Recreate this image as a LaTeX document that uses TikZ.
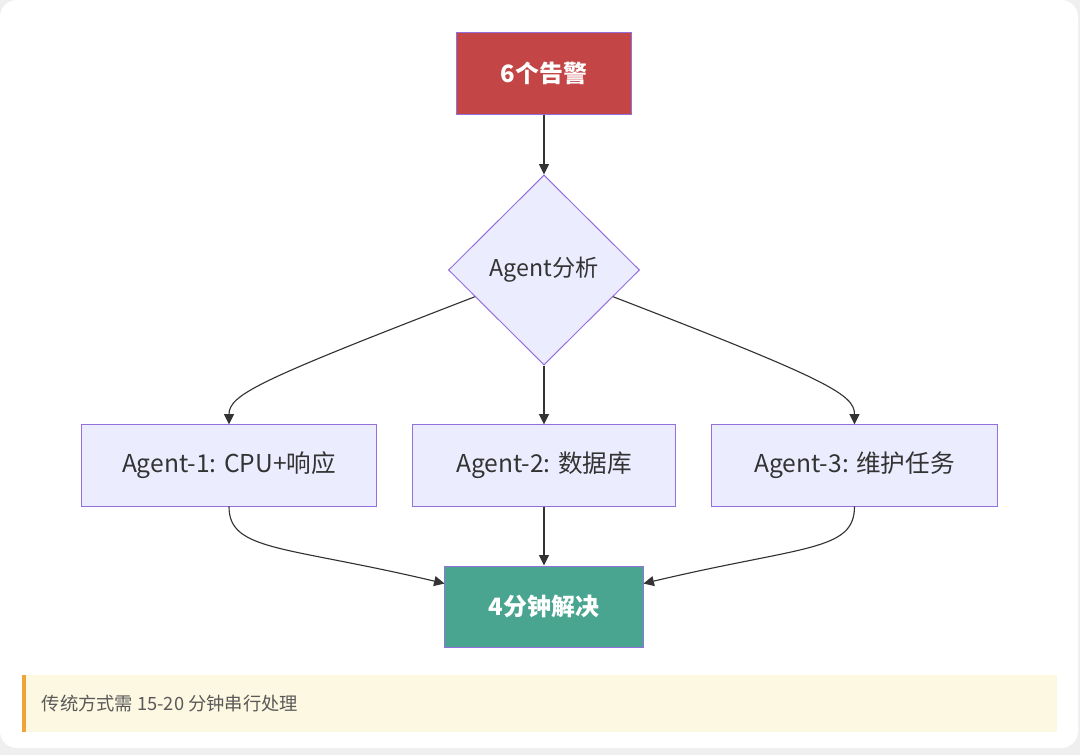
\documentclass[tikz,border=0pt]{standalone}
\usepackage{fontspec}
\setmainfont{Noto Sans CJK SC}
\usepackage{tikz}
\usetikzlibrary{arrows.meta,calc,positioning,shapes.geometric}

\definecolor{nodeline}{HTML}{9370DB}
\definecolor{nodefill}{HTML}{ECECFF}
\definecolor{alarmred}{HTML}{C34545}
\definecolor{doneteal}{HTML}{4AA590}
\definecolor{linkgray}{HTML}{333333}
\definecolor{notefill}{HTML}{FDF8E1}
\definecolor{notebar}{HTML}{EFA43A}
\definecolor{pagegray}{HTML}{EFEFEF}

\begin{document}
\begin{tikzpicture}[
    x=0.025cm,
    y=-0.025cm,
    >={Triangle[length=2.6mm, width=2.5mm]},
    box/.style={draw=nodeline, line width=0.7pt, fill=nodefill, text=linkgray, align=center, minimum height=2.025cm, inner sep=2pt, font=\fontsize{17.5}{20}\selectfont},
    hotbox/.style={box, text=white, font=\fontsize{17}{20}\selectfont\bfseries},
    decide/.style={draw=nodeline, line width=0.7pt, fill=nodefill, text=linkgray, diamond, minimum width=4.775cm, minimum height=4.75cm, inner sep=0pt, font=\fontsize{16.5}{20}\selectfont},
    link/.style={->, draw=linkgray, line width=0.8pt}
]
% page and card
\fill[pagegray] (0,0) rectangle (1080,755);
\fill[white, rounded corners=12pt] (0,0) rectangle (1078,748);
\useasboundingbox (0,0) rectangle (1080,755);

\node[hotbox, fill=alarmred, minimum width=4.35cm] (alarm) at (544,73.5) {6个告警};
\node[decide] (diag) at (544,270) {Agent分析};
\node[box, minimum width=7.35cm] (agent1) at (229,465.5) {Agent-1: CPU+响应};
\node[box, minimum width=6.55cm] (agent2) at (544,465.5) {Agent-2: 数据库};
\node[box, minimum width=7.125cm] (agent3) at (854.5,465.5) {Agent-3: 维护任务};
\node[hotbox, fill=doneteal, minimum width=4.95cm] (result) at (544,606.5) {4分钟解决};

\coordinate (diagL) at ($(diag.west)!0.28!(diag.south)$);
\coordinate (diagR) at ($(diag.east)!0.28!(diag.south)$);
\coordinate (resL) at ($(result.north west)!0.22!(result.south west)$);
\coordinate (resR) at ($(result.north east)!0.22!(result.south east)$);

\draw[link] (alarm) -- (diag);
\draw[link] (diagL) .. controls +(-215,83) and +(0,-30) .. (agent1.north);
\draw[link] (diag.south) -- (agent2.north);
\draw[link] (diagR) .. controls +(215,83) and +(0,-30) .. (agent3.north);
\draw[link] (agent1.south) .. controls +(0,45) and +(-160,-38) .. (resL);
\draw[link] (agent2.south) -- (result.north);
\draw[link] (agent3.south) .. controls +(0,45) and +(160,-38) .. (resR);

% note strip
\node[fill=notefill, minimum width=25.875cm, minimum height=1.425cm, inner sep=0pt] (note) at (539.5,703.5) {};
\fill[notebar] (note.north west) rectangle ($(note.south west)+(4,0)$);
\node[anchor=west, text=black!65, font=\fontsize{13}{15}\selectfont, inner sep=0pt] (notetext) at ($(note.west)+(20,0)$) {传统方式需 15-20 分钟串行处理};
\end{tikzpicture}
\end{document}
